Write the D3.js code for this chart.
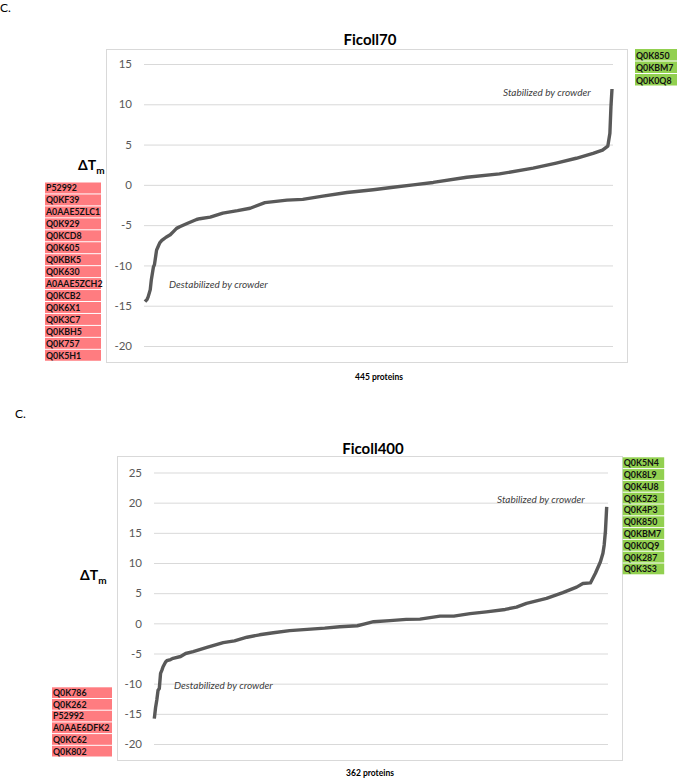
<!DOCTYPE html>
<html>
<head>
<meta charset="utf-8">
<script src="https://cdn.jsdelivr.net/npm/d3@7"></script>
<style>
  html, body { margin: 0; padding: 0; background: #fff; }
  svg { display: block; }
  text { font-family: Lato, "Open Sans", "Liberation Sans", sans-serif; }
</style>
</head>
<body>
<svg id="chart" width="677" height="780"></svg>
<script>
// ---------------- DATA ----------------
// Ficoll70: 445 proteins, sorted ΔTm (rank, value)
const f70Rank  = [0, 2, 3, 5, 6, 8, 9, 11, 12, 14, 16, 17, 20, 24, 27, 30, 33, 40, 49, 52, 62, 74, 88, 100, 114, 135, 150, 169, 192, 217, 236, 255, 274, 306, 337, 369, 391, 410, 426, 435, 440, 442, 443, 444];
const f70Value = [-14.5, -14.2, -13.9, -13.0, -11.8, -10.2, -9.9, -8.1, -7.8, -7.2, -6.9, -6.8, -6.5, -6.2, -5.8, -5.4, -5.2, -4.8, -4.3, -4.2, -4.0, -3.5, -3.2, -2.9, -2.2, -1.9, -1.8, -1.4, -0.95, -0.6, -0.3, 0.0, 0.3, 0.95, 1.36, 2.07, 2.7, 3.3, 3.9, 4.3, 4.8, 6.4, 9.7, 11.9];
const f70Ticks = [15, 10, 5, 0, -5, -10, -15, -20];
const f70Destab = ["P52992", "Q0KF39", "A0AAE5ZLC1", "Q0K929", "Q0KCD8", "Q0K605", "Q0KBK5", "Q0K630", "A0AAE5ZCH2", "Q0KCB2", "Q0K6X1", "Q0K3C7", "Q0KBH5", "Q0K757", "Q0K5H1"];
const f70Stab = ["Q0K850", "Q0KBM7", "Q0K0Q8"];

// Ficoll400: 362 proteins
const f400Rank  = [0, 1, 2, 3, 4, 5, 6, 7, 9, 10, 13, 15, 21, 25, 31, 42, 55, 64, 74, 84, 95, 108, 122, 136, 148, 162, 168, 175, 188, 201, 212, 228, 239, 252, 265, 280, 289, 297, 313, 326, 337, 342, 348, 352, 356, 358, 359, 360, 361];
const f400Value = [-15.8, -14.0, -12.7, -11.1, -10.8, -8.3, -7.8, -7.2, -6.4, -6.2, -6.0, -5.8, -5.5, -5.0, -4.7, -4.0, -3.2, -2.9, -2.3, -1.9, -1.56, -1.2, -1.0, -0.8, -0.56, -0.4, -0.1, 0.27, 0.45, 0.66, 0.7, 1.2, 1.2, 1.6, 1.9, 2.3, 2.7, 3.3, 4.15, 5.1, 6.0, 6.6, 6.7, 8.3, 10.2, 11.6, 13.0, 15.3, 19.3];
const f400Ticks = [25, 20, 15, 10, 5, 0, -5, -10, -15, -20];
const f400Destab = ["Q0K786", "Q0K262", "P52992", "A0AAE6DFK2", "Q0KC62", "Q0K802"];
const f400Stab = ["Q0K5N4", "Q0K8L9", "Q0K4U8", "Q0K5Z3", "Q0K4P3", "Q0K850", "Q0KBM7", "Q0K0Q9", "Q0K287", "Q0K3S3"];

// ---------------- DRAWING ----------------
const svg = d3.select("#chart");

function panel(cfg) {
  const g = svg.append("g");
  // "C." panel label
  g.append("text").attr("x", cfg.cX).attr("y", cfg.cY)
    .attr("font-size", 12).attr("fill", "#000").text("C.");

  // plot border
  g.append("rect")
    .attr("x", cfg.box[0] + 0.5).attr("y", cfg.box[1] + 0.5)
    .attr("width", cfg.box[2] - cfg.box[0]).attr("height", cfg.box[3] - cfg.box[1])
    .attr("fill", "none").attr("stroke", "#d9d9d9").attr("stroke-width", 1);

  const x = d3.scaleLinear().domain([0, cfg.n - 1]).range(cfg.xRange);
  const y = d3.scaleLinear().domain(cfg.yDomain).range(cfg.yRange);

  // gridlines + tick labels
  const axis = d3.axisLeft(y).tickValues(cfg.ticks)
    .tickSize(-(cfg.grid[1] - cfg.grid[0])).tickPadding(12)
    .tickFormat(d3.format("d"));
  const ag = g.append("g").attr("transform", `translate(${cfg.grid[0]},0)`).call(axis);
  ag.select(".domain").remove();
  ag.selectAll(".tick line").attr("stroke", "#d9d9d9").attr("stroke-width", 1);
  ag.selectAll(".tick text").attr("fill", "#595959").attr("font-size", 11.5)
    .style("font-family", "Lato, 'Open Sans', sans-serif")
    .text(d => d < 0 ? "-" + Math.abs(d) : d);

  // curve
  const pts = cfg.rank.map((r, i) => [r, cfg.value[i]]);
  g.append("path").datum(pts)
    .attr("d", d3.line().x(d => x(d[0])).y(d => y(d[1])))
    .attr("fill", "none").attr("stroke", "#595959").attr("stroke-width", 3.4)
    .attr("stroke-linejoin", "round").attr("stroke-linecap", "butt");

  // title
  g.append("text").attr("x", cfg.titleX).attr("y", cfg.titleY)
    .attr("text-anchor", "middle").attr("font-size", 15).attr("font-weight", 700)
    .attr("fill", "#000").text(cfg.title);

  // annotations
  g.append("text").attr("x", cfg.stabPos[0]).attr("y", cfg.stabPos[1])
    .attr("font-size", 10).attr("font-style", "italic").attr("fill", "#404040")
    .text("Stabilized by crowder");
  g.append("text").attr("x", cfg.destPos[0]).attr("y", cfg.destPos[1])
    .attr("font-size", 10).attr("font-style", "italic").attr("fill", "#404040")
    .text("Destabilized by crowder");

  // ΔTm axis label
  const yl = g.append("text").attr("x", cfg.dtPos[0]).attr("y", cfg.dtPos[1])
    .attr("font-size", 14).attr("font-weight", 700).attr("fill", "#000");
  yl.append("tspan").text("ΔT");
  yl.append("tspan").attr("font-size", 10).attr("dy", 4).text("m");

  // x label
  g.append("text").attr("x", cfg.xlPos[0]).attr("y", cfg.xlPos[1])
    .attr("text-anchor", "middle").attr("font-size", 8.5).attr("font-weight", 700)
    .attr("fill", "#000").text(cfg.xLabel);

  // label lists
  function list(names, x0, w, y0, h, color) {
    const lg = g.append("g");
    names.forEach((nm, i) => {
      lg.append("rect").attr("x", x0).attr("y", y0 + i * h)
        .attr("width", w).attr("height", h - 1).attr("fill", color);
      lg.append("text").attr("x", x0 + 1).attr("y", y0 + i * h + h - 3)
        .attr("font-size", 8.8).attr("font-weight", 700).attr("fill", "#111")
        .text(nm);
    });
  }
  list(cfg.destab, cfg.redBox[0], cfg.redBox[1], cfg.redBox[2], cfg.redBox[3], "#ff7c80");
  list(cfg.stab, cfg.greenBox[0], cfg.greenBox[1], cfg.greenBox[2], cfg.greenBox[3], "#92d050");
}

panel({
  title: "Ficoll70", titleX: 370, titleY: 45,
  cX: 0, cY: 12,
  box: [106, 49, 627, 362],
  grid: [144, 613],
  n: 445, xRange: [145, 612],
  yDomain: [-20, 15], yRange: [346, 64],
  ticks: f70Ticks, rank: f70Rank, value: f70Value,
  stabPos: [503, 96], destPos: [169, 288],
  dtPos: [78, 170], xlPos: [379, 380], xLabel: "445 proteins",
  destab: f70Destab, stab: f70Stab,
  redBox: [45, 56, 182.5, 11.95],
  greenBox: [635, 42, 49, 12.5]
});

panel({
  title: "Ficoll400", titleX: 373, titleY: 454,
  cX: 15, cY: 418,
  box: [117, 456, 622, 760],
  grid: [154, 608],
  n: 362, xRange: [154.3, 606.7],
  yDomain: [-20, 25], yRange: [744, 472.5],
  ticks: f400Ticks, rank: f400Rank, value: f400Value,
  stabPos: [497, 503], destPos: [174, 689],
  dtPos: [80, 580], xlPos: [370, 776], xLabel: "362 proteins",
  destab: f400Destab, stab: f400Stab,
  redBox: [52, 60, 687.3, 11.7],
  greenBox: [622.7, 41.5, 457.3, 11.8]
});
</script>
</body>
</html>
